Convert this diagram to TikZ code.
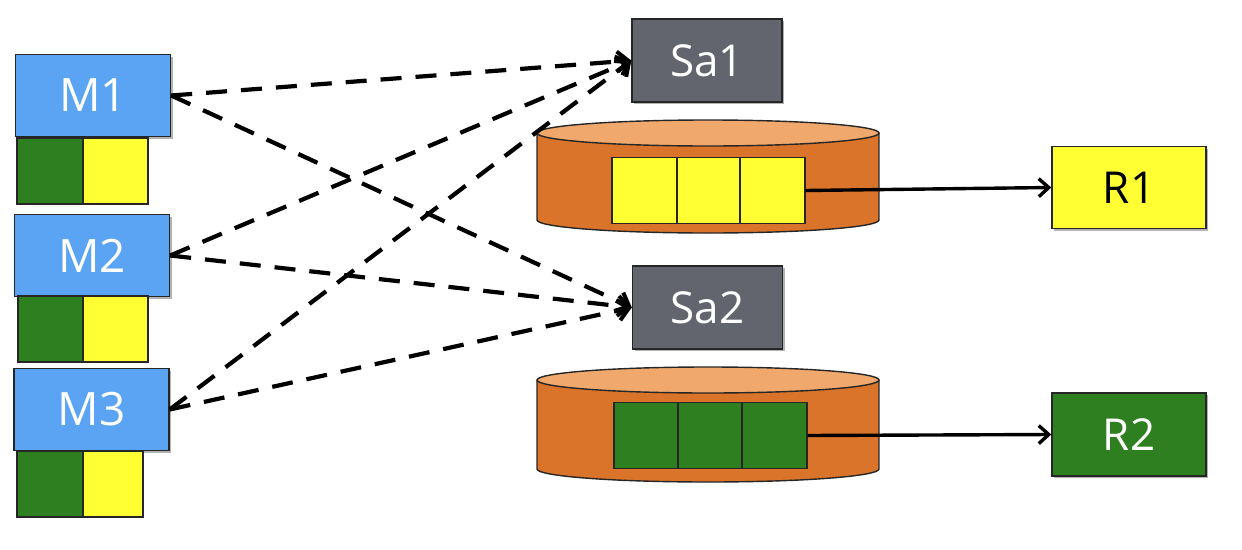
\documentclass[tikz,border=0pt]{standalone}
\usepackage{fontspec}
\setmainfont{Open Sans}
\usetikzlibrary{arrows.meta,shadows}
\definecolor{mblue}{HTML}{5BA4F4}
\definecolor{sgrey}{HTML}{62656D}
\definecolor{cyel}{HTML}{FFFF33}
\definecolor{cgreen}{HTML}{2E7F1F}
\definecolor{corange}{HTML}{D9742A}
\definecolor{ctop}{HTML}{F0A86C}
\tikzset{
  bx/.style={rectangle, draw=black!85, line width=1.4pt, inner sep=0pt,
    drop shadow={shadow xshift=2pt, shadow yshift=-2pt, opacity=0.3, fill=black}},
  mbox/.style={bx, fill=mblue, minimum width=155pt, minimum height=82pt,
    text=white, font=\fontsize{46}{50}\selectfont},
  sbox/.style={bx, fill=sgrey, minimum width=150pt, minimum height=83pt,
    text=white, font=\fontsize{44}{48}\selectfont},
  rbox/.style={bx, minimum width=154pt, minimum height=82pt,
    font=\fontsize{44}{48}\selectfont},
  cell/.style={rectangle, draw=black!85, line width=1.4pt, inner sep=0pt,
    minimum height=66pt},
  dasharrow/.style={line width=4.2pt, dash pattern=on 21pt off 14pt,
    -{Straight Barb[length=11pt,width=20pt,line width=4pt]}},
  solidarrow/.style={line width=3.4pt,
    -{Straight Barb[length=10pt,width=18pt,line width=3.4pt]}},
}
\begin{document}
\begin{tikzpicture}[x=1pt,y=-1pt]
\useasboundingbox (0,0) rectangle (1242,549);
\fill[white] (0,0) rectangle (1242,549);

% cylinders
\foreach \cy/\cb in {133/220, 380/469}{
  \fill[corange] (708,\cb) ellipse[x radius=171pt, y radius=13pt];
  \fill[corange] (537,\cy) rectangle (879,\cb);
  \draw[line width=1.4pt, black!85] (537,\cy) -- (537,\cb)
     arc[start angle=180, end angle=360, x radius=171pt, y radius=13pt] -- (879,\cy);
  \filldraw[fill=ctop, draw=black!85, line width=1.4pt] (708,\cy) ellipse[x radius=171pt, y radius=13pt];
}

% cells in cylinders
\node[cell, fill=cyel, minimum width=65pt] (c1a) at (644.5,190.5) {};
\node[cell, fill=cyel, minimum width=63pt] (c1b) at (708.5,190.5) {};
\node[cell, fill=cyel, minimum width=65pt] (c1c) at (772.5,190.5) {};
\node[cell, fill=cgreen, minimum width=64pt] (c2a) at (646,435.5) {};
\node[cell, fill=cgreen, minimum width=64pt] (c2b) at (710,435.5) {};
\node[cell, fill=cgreen, minimum width=65pt] (c2c) at (774.5,435.5) {};

% M boxes with cells
\node[mbox] (M1) at (93,95.5) {M1};
\node[cell, fill=cgreen, minimum width=66pt] (g1) at (50,171) {};
\node[cell, fill=cyel, minimum width=65pt] (y1) at (115.5,171) {};
\node[mbox] (M2) at (92,255.5) {M2};
\node[cell, fill=cgreen, minimum width=65pt] (g2) at (50.5,329) {};
\node[cell, fill=cyel, minimum width=65pt] (y2) at (115.5,329) {};
\node[mbox] (M3) at (91.5,409.5) {M3};
\node[cell, fill=cgreen, minimum width=66pt] (g3) at (50,484) {};
\node[cell, fill=cyel, minimum width=60pt] (y3) at (113,484) {};

% Sa boxes
\node[sbox] (Sa1) at (707,60.5) {Sa1};
\node[sbox] (Sa2) at (707.5,307.5) {Sa2};

% R boxes
\node[rbox, fill=cyel, text=black] (R1) at (1129,187.5) {R1};
\node[rbox, fill=cgreen, text=white, minimum height=83pt] (R2) at (1129,434.5) {R2};

% dashed arrows
\foreach \m in {M1,M2,M3}{
  \draw[dasharrow] (\m.east) -- (Sa1.west);
  \draw[dasharrow] (\m.east) -- (Sa2.west);
}

% solid arrows
\draw[solidarrow] (c1c.east) -- (R1.west);
\draw[solidarrow] (c2c.east) -- (R2.west);
\end{tikzpicture}
\end{document}
